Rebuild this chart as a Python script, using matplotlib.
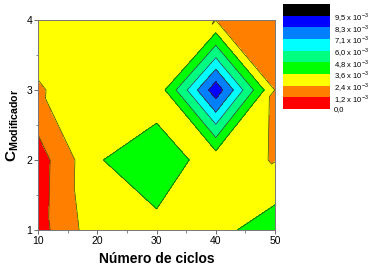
import numpy as np
import matplotlib
matplotlib.use("Agg")
import matplotlib.pyplot as plt
import matplotlib.tri as mtri
from matplotlib.ticker import MultipleLocator

plt.rcParams['font.family'] = ['Liberation Sans', 'DejaVu Sans']
plt.rcParams['mathtext.fontset'] = 'custom'
plt.rcParams['mathtext.rm'] = 'Liberation Sans'
plt.rcParams['mathtext.bf'] = 'Liberation Sans:bold'

# ---- data (z in units of 1e-3) ----
ciclos = [10, 20, 30, 40, 50]
modificador = [1, 2, 3, 4]
z_y1 = [0.71, 3.16, 3.17, 3.20, 4.30]
z_y2 = [0.63, 3.49, 4.60, 2.78, 2.35]
z_y3 = [2.25, 3.40, 2.70, 9.10, 2.36]
z_y4 = [3.30, 3.00, 3.00, 2.38, 2.00]
# cell diagonals: '/' bottom-left to top-right, '\\' top-left to bottom-right
diag_y12 = ['/', '\\', '/', '/']
diag_y23 = ['\\', '/', '\\', '/']
diag_y34 = ['\\', '/', '/', '\\']
levels = [0.0, 1.2, 2.4, 3.6, 4.8, 6.0, 7.1, 8.3, 9.5, 10.7]
level_labels = ["0,0", "1,2 x 10$^{-3}$", "2,4 x 10$^{-3}$", "3,6 x 10$^{-3}$",
                "4,8 x 10$^{-3}$", "6,0 x 10$^{-3}$", "7,1 x 10$^{-3}$",
                "8,3 x 10$^{-3}$", "9,5 x 10$^{-3}$"]
colors = ['#FF0000', '#FF8000', '#FFFF00', '#00FF00', '#00FF80',
          '#00FFFF', '#0080FF', '#0000FF', '#000000']

# ---- build triangulation ----
nx, ny = len(ciclos), len(modificador)
X, Y = np.meshgrid(ciclos, modificador)
Z = np.array([z_y1, z_y2, z_y3, z_y4])
def idx(i, j):
    return j * nx + i
tris = []
for j, row in enumerate([diag_y12, diag_y23, diag_y34]):
    for i, d in enumerate(row):
        bl, br, tl, tr = idx(i, j), idx(i + 1, j), idx(i, j + 1), idx(i + 1, j + 1)
        if d == '/':
            tris += [(bl, br, tr), (bl, tr, tl)]
        else:
            tris += [(bl, br, tl), (br, tr, tl)]
tri = mtri.Triangulation(X.ravel(), Y.ravel(), triangles=tris)

W, H = 371, 274
fig = plt.figure(figsize=(W / 100, H / 100), dpi=100)
ax = fig.add_axes([38.3 / W, 1 - 230 / H, (275 - 38.3) / W, 210 / H])
ax.tricontourf(tri, Z.ravel(), levels=levels, colors=colors)
ax.tricontour(tri, Z.ravel(), levels=levels[1:-1], colors='#3a3a10', linewidths=0.5)
ax.set_xlim(10, 50)
ax.set_ylim(1, 4)
ax.set_xticks(ciclos)
ax.set_yticks(modificador)
ax.xaxis.set_minor_locator(MultipleLocator(5))
ax.yaxis.set_minor_locator(MultipleLocator(0.5))
ax.tick_params(which='major', direction='out', length=3, width=0.6, color='#555555',
               labelsize=7.5, pad=1.5)
ax.tick_params(which='minor', direction='out', length=1.8, width=0.5, color='#555555')
for s in ax.spines.values():
    s.set_color('#777777')
    s.set_linewidth(0.7)
ax.set_xlabel("Número de ciclos", fontsize=10, fontweight='bold', labelpad=4)
ax.set_ylabel(r"$\mathbf{C}_{\mathbf{Modificador}}$", fontsize=11, labelpad=4)

# ---- legend-like colour bar ----
cax = fig.add_axes([283 / W, 1 - 109 / H, 47 / W, 105 / H])
for k, c in enumerate(colors):
    cax.bar(0.5, 1, bottom=k, width=1, color=c, edgecolor='none')
cax.set_xlim(0, 1)
cax.set_ylim(0, len(colors))
cax.set_xticks([])
cax.yaxis.tick_right()
cax.set_yticks(range(len(level_labels)))
cax.set_yticklabels(level_labels)
cax.tick_params(axis='y', length=0, labelsize=5.5, pad=3)
for s in cax.spines.values():
    s.set_visible(False)

fig.savefig("out.png", dpi=100)
